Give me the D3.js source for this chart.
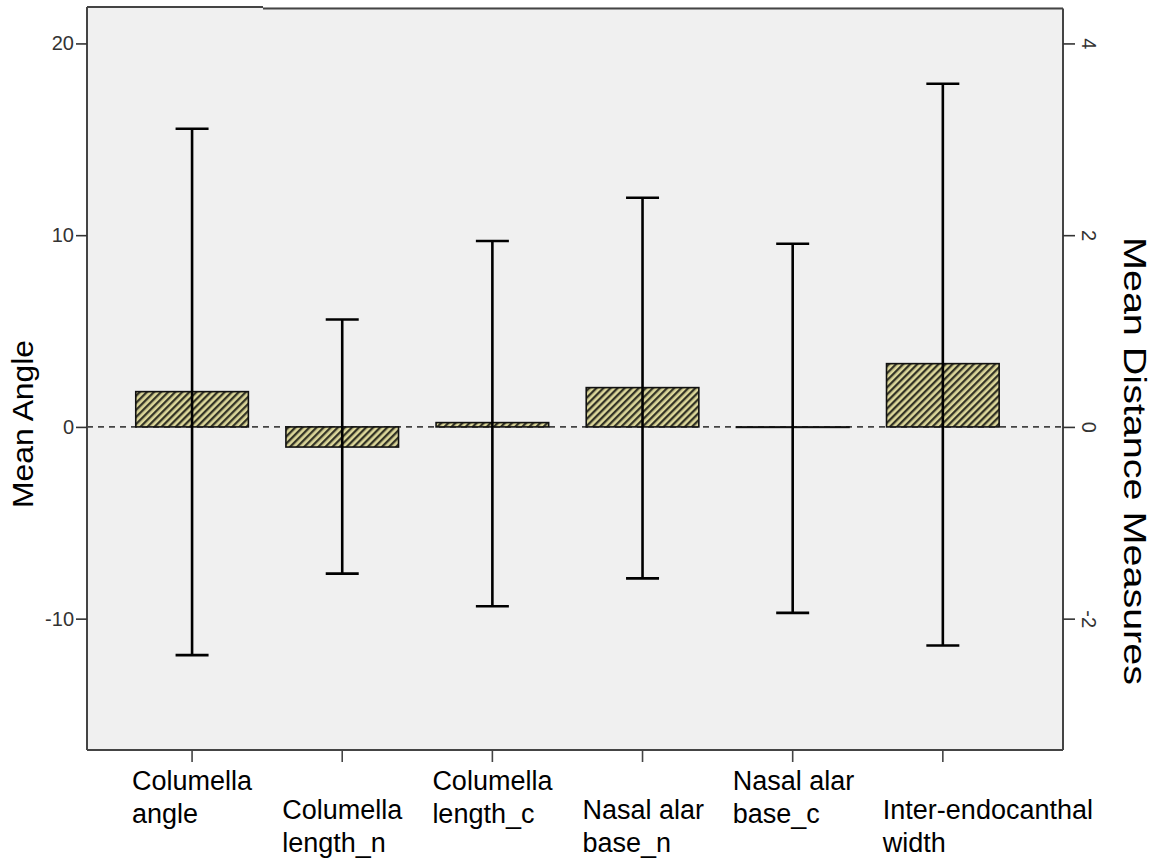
<!DOCTYPE html>
<html>
<head>
<meta charset="utf-8">
<script src="https://cdn.jsdelivr.net/npm/d3@7"></script>
<style>
  html, body { margin: 0; padding: 0; background: #ffffff; }
  svg { display: block; font-family: "Liberation Sans", Arial, sans-serif; }
</style>
</head>
<body>
<svg id="chart" width="1157" height="859"></svg>
<script>
// ---- data ----
const categories = [
  ["Columella", "angle"],
  ["Columella", "length_n"],
  ["Columella", "length_c"],
  ["Nasal alar", "base_n"],
  ["Nasal alar", "base_c"],
  ["Inter-endocanthal", "width"]
];
const categoryKeys = categories.map(c => c.join(" "));
// which axis each measure is read against
const axisOf = ["angle", "distance", "distance", "distance", "distance", "distance"];
const means = [1.84, -0.21, 0.045, 0.41, -0.005, 0.66];
const upperCI = [15.55, 1.12, 1.94, 2.39, 1.91, 3.58];
const lowerCI = [-11.9, -1.53, -1.87, -1.58, -1.94, -2.28];
const leftTicks = [-10, 0, 10, 20];
const rightTicks = [-2, 0, 2, 4];
const leftDomain = [-16.85, 21.9];
const rightDomain = [-3.37, 4.38];

// ---- layout ----
const svg = d3.select("#chart");
const L = 87, R = 1063, T = 7, B = 750;

const x = d3.scaleBand()
  .domain(categoryKeys)
  .range([L, R])
  .paddingInner(0.25)
  .paddingOuter(0.375)
  .align(0.433);

const yLeft = d3.scaleLinear().domain(leftDomain).range([B, T]);
const yRight = d3.scaleLinear().domain(rightDomain).range([B, T]);
const yFor = i => axisOf[i] === "angle" ? yLeft : yRight;
const fmt = d => String(d);

// hatch pattern
const defs = svg.append("defs");
const pat = defs.append("pattern")
  .attr("id", "hatch")
  .attr("patternUnits", "userSpaceOnUse")
  .attr("width", 5).attr("height", 5)
  .attr("patternTransform", "rotate(45)");
pat.append("rect").attr("width", 5).attr("height", 5).attr("fill", "#dcd79a");
pat.append("rect").attr("x", 0).attr("y", 0).attr("width", 2.3).attr("height", 5).attr("fill", "#333325");

// plot background
svg.append("rect")
  .attr("x", L).attr("y", T)
  .attr("width", R - L).attr("height", B - T)
  .attr("fill", "#f0f0f0");

// zero reference line
svg.append("line")
  .attr("x1", L).attr("x2", R)
  .attr("y1", yLeft(0)).attr("y2", yLeft(0))
  .attr("stroke", "#444").attr("stroke-width", 1.6)
  .attr("stroke-dasharray", "6,5");

// bars
const idx = d3.range(categories.length);
svg.append("g").selectAll("rect")
  .data(idx)
  .join("rect")
  .attr("x", i => x(categoryKeys[i]))
  .attr("width", x.bandwidth())
  .attr("y", i => Math.min(yFor(i)(means[i]), yFor(i)(0)))
  .attr("height", i => Math.abs(yFor(i)(means[i]) - yFor(i)(0)))
  .attr("fill", "url(#hatch)")
  .attr("stroke", "#111")
  .attr("stroke-width", 1.6);

// error bars
const cap = 33;
const eb = svg.append("g").attr("stroke", "#000").attr("stroke-width", 2.6).attr("fill", "none");
idx.forEach(i => {
  const cx = x(categoryKeys[i]) + x.bandwidth() / 2;
  const y = yFor(i);
  eb.append("line").attr("x1", cx).attr("x2", cx).attr("y1", y(upperCI[i])).attr("y2", y(lowerCI[i]));
  eb.append("line").attr("x1", cx - cap / 2).attr("x2", cx + cap / 2).attr("y1", y(upperCI[i])).attr("y2", y(upperCI[i]));
  eb.append("line").attr("x1", cx - cap / 2).attr("x2", cx + cap / 2).attr("y1", y(lowerCI[i])).attr("y2", y(lowerCI[i]));
});

// frame
const frame = svg.append("g").attr("stroke", "#444").attr("stroke-width", 2).attr("fill", "none");
frame.append("line").attr("x1", L).attr("x2", L).attr("y1", T).attr("y2", B);
frame.append("line").attr("x1", R).attr("x2", R).attr("y1", T + 1.5).attr("y2", B);
frame.append("line").attr("x1", L).attr("x2", R).attr("y1", B).attr("y2", B);
frame.append("line").attr("x1", L).attr("x2", 263).attr("y1", T).attr("y2", T);
frame.append("line").attr("x1", 263).attr("x2", R).attr("y1", T + 1.5).attr("y2", T + 1.5);

// left axis
const leftAxis = svg.append("g")
  .attr("transform", `translate(${L},0)`)
  .call(d3.axisLeft(yLeft).tickValues(leftTicks).tickSize(11).tickPadding(2).tickFormat(fmt));
leftAxis.select(".domain").remove();
leftAxis.selectAll(".tick line").attr("stroke", "#333").attr("stroke-width", 1.6);
leftAxis.selectAll(".tick text")
  .attr("font-size", 20).attr("fill", "#333")
  .attr("font-family", "Liberation Sans, Arial, sans-serif");

// right axis with rotated labels
const rightAxis = svg.append("g")
  .attr("transform", `translate(${R},0)`)
  .call(d3.axisRight(yRight).tickValues(rightTicks).tickSize(12).tickFormat(fmt));
rightAxis.select(".domain").remove();
rightAxis.selectAll(".tick line").attr("stroke", "#333").attr("stroke-width", 1.6);
rightAxis.selectAll(".tick text")
  .attr("font-size", 20).attr("fill", "#333")
  .attr("font-family", "Liberation Sans, Arial, sans-serif")
  .attr("x", null).attr("dy", null)
  .attr("text-anchor", "middle")
  .attr("transform", "translate(19,0) rotate(90)");

// bottom axis ticks
const bottomAxis = svg.append("g")
  .attr("transform", `translate(0,${B})`)
  .call(d3.axisBottom(x).tickSize(12).tickFormat(""));
bottomAxis.select(".domain").remove();
bottomAxis.selectAll(".tick line").attr("stroke", "#444").attr("stroke-width", 1.6);

// category labels (staggered, two lines each)
const lab = svg.append("g").attr("font-size", 27).attr("fill", "#000");
idx.forEach(i => {
  const cx = x(categoryKeys[i]) + x.bandwidth() / 2;
  const base = i % 2 === 0 ? 790 : 819;
  const t = lab.append("text").attr("x", cx - 60).attr("y", base).attr("text-anchor", "start");
  categories[i].forEach((line, k) => {
    t.append("tspan").attr("x", cx - 60).attr("y", base + k * 33).text(line);
  });
});

// axis titles
svg.append("text")
  .attr("transform", `translate(33,${(340 + 508) / 2}) rotate(-90)`)
  .attr("text-anchor", "middle")
  .attr("font-size", 30)
  .attr("textLength", 168).attr("lengthAdjust", "spacingAndGlyphs")
  .text("Mean Angle");

svg.append("text")
  .attr("transform", `translate(1124,${(237 + 685) / 2}) rotate(90)`)
  .attr("text-anchor", "middle")
  .attr("font-size", 32)
  .attr("textLength", 448).attr("lengthAdjust", "spacingAndGlyphs")
  .text("Mean Distance Measures");
</script>
</body>
</html>
